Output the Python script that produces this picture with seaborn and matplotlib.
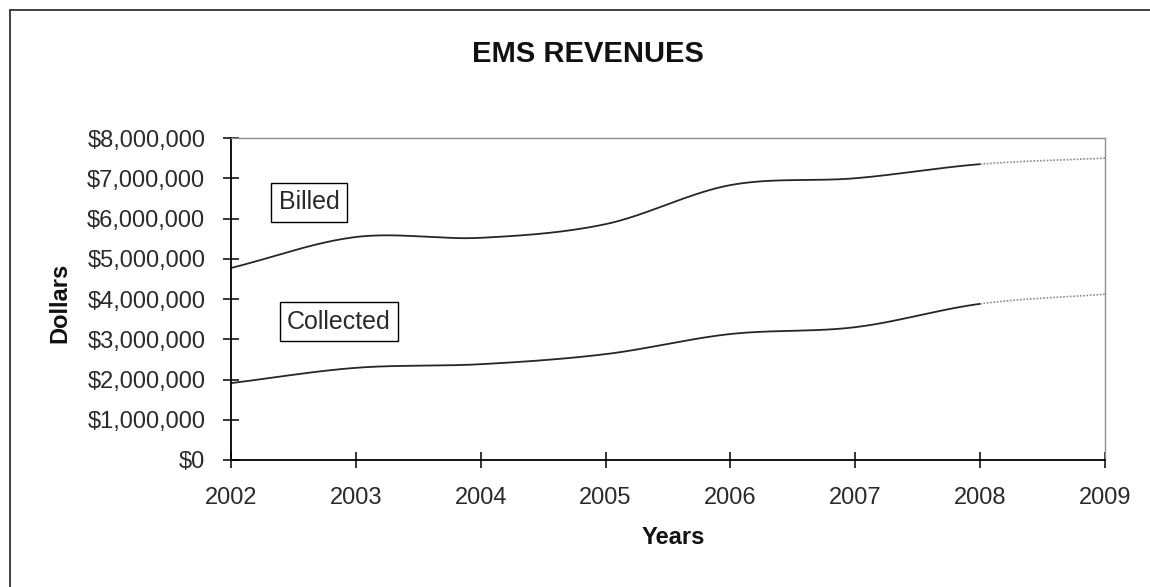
import numpy as np
import pandas as pd
import matplotlib
matplotlib.use("Agg")
import matplotlib.pyplot as plt
import seaborn as sns
from matplotlib.ticker import FuncFormatter

# Revenue figures by year (2009 is a projection)
years = [2002, 2003, 2004, 2005, 2006, 2007, 2008, 2009]
billed = [4770000, 5540000, 5520000, 5860000, 6830000, 7000000, 7350000, 7500000]
collected = [1910000, 2290000, 2380000, 2630000, 3130000, 3300000, 3880000, 4120000]
last_actual_year = 2008
y_ticks = [0, 1000000, 2000000, 3000000, 4000000, 5000000, 6000000, 7000000, 8000000]


def smooth(xs, ys, n=40):
    """Catmull-Rom curve through the yearly points, like a smoothed spreadsheet line."""
    xs = np.asarray(xs, float)
    ys = np.asarray(ys, float)
    px = np.concatenate([[2 * xs[0] - xs[1]], xs, [2 * xs[-1] - xs[-2]]])
    py = np.concatenate([[2 * ys[0] - ys[1]], ys, [2 * ys[-1] - ys[-2]]])
    out_x, out_y = [], []
    for i in range(1, len(px) - 2):
        t = np.linspace(0, 1, n, endpoint=False)
        for arr, out in ((px, out_x), (py, out_y)):
            p0, p1, p2, p3 = arr[i - 1], arr[i], arr[i + 1], arr[i + 2]
            out.extend(0.5 * ((2 * p1) + (-p0 + p2) * t
                              + (2 * p0 - 5 * p1 + 4 * p2 - p3) * t ** 2
                              + (-p0 + 3 * p1 - 3 * p2 + p3) * t ** 3))
    out_x.append(xs[-1])
    out_y.append(ys[-1])
    return np.array(out_x), np.array(out_y)


sns.set_theme(style="white")
plt.rcParams["font.family"] = ["Liberation Sans", "DejaVu Sans"]

W, H = 1150, 587
fig = plt.figure(figsize=(W / 100, H / 100), dpi=100)
ax = fig.add_axes([231 / W, 1 - 460 / H, (1105 - 231) / W, (460 - 138) / H])

frames = []
for name, vals in (("Billed", billed), ("Collected", collected)):
    sx, sy = smooth(years, vals)
    frames.append(pd.DataFrame({"year": sx, "value": sy, "series": name}))
curves = pd.concat(frames, ignore_index=True)

actual = curves[curves["year"] <= last_actual_year + 1e-9]
projected = curves[curves["year"] >= last_actual_year - 1e-9]

sns.lineplot(data=actual, x="year", y="value", units="series", estimator=None,
             color="#262626", linewidth=1.3, ax=ax, sort=False)
sns.lineplot(data=projected, x="year", y="value", units="series", estimator=None,
             color="#8a8a8a", linewidth=1.2, linestyle=(0, (1, 1)), ax=ax, sort=False)

ax.set_xlim(years[0], years[-1])
ax.set_ylim(y_ticks[0], y_ticks[-1])
ax.set_xticks(years)
ax.set_yticks(y_ticks)
ax.yaxis.set_major_formatter(FuncFormatter(lambda v, _: f"${v:,.0f}"))

for side in ("left", "bottom"):
    ax.spines[side].set_color("black")
    ax.spines[side].set_linewidth(1.3)
for side in ("top", "right"):
    ax.spines[side].set_color("#909090")
    ax.spines[side].set_linewidth(1.0)

ax.tick_params(axis="both", which="major", bottom=True, left=True, direction="inout",
               length=12, width=1.1, color="black", labelsize=17, labelcolor="#2a2a2a")
ax.tick_params(axis="y", pad=12.5)
ax.tick_params(axis="x", pad=13.5)

ax.set_xlabel("Years", fontsize=17, fontweight="bold", color="#111111")
ax.set_ylabel("Dollars", fontsize=17, fontweight="bold", color="#111111")
ax.xaxis.label.set_va("center")
ax.yaxis.label.set_va("center")
ax.xaxis.set_label_coords((673 - 231) / (1105 - 231), -(538 - 460) / (460 - 138))
ax.yaxis.set_label_coords(-(231 - 60) / (1105 - 231), (460 - 303) / (460 - 138))

box = dict(boxstyle="square,pad=0.3", facecolor="white", edgecolor="black", linewidth=1.0)
ax.text(2002.625, 6400000, "Billed", fontsize=18, ha="center", va="center", bbox=box,
        color="#2a2a2a")
ax.text(2002.865, 3440000, "Collected", fontsize=18, ha="center", va="center", bbox=box,
        color="#2a2a2a")

fig.text(588 / W, 1 - 54 / H, "EMS REVENUES", fontsize=21, fontweight="bold",
         ha="center", va="center", color="#111111")

# chart frame (left and top edges)
fig.add_artist(plt.Line2D([10 / W, 10 / W], [0, 1 - 10 / H], transform=fig.transFigure,
                          color="#333333", linewidth=1.3))
fig.add_artist(plt.Line2D([10 / W, 1], [1 - 10 / H, 1 - 10 / H], transform=fig.transFigure,
                          color="#333333", linewidth=1.3))

fig.savefig("out.png", dpi=100, facecolor="white")
